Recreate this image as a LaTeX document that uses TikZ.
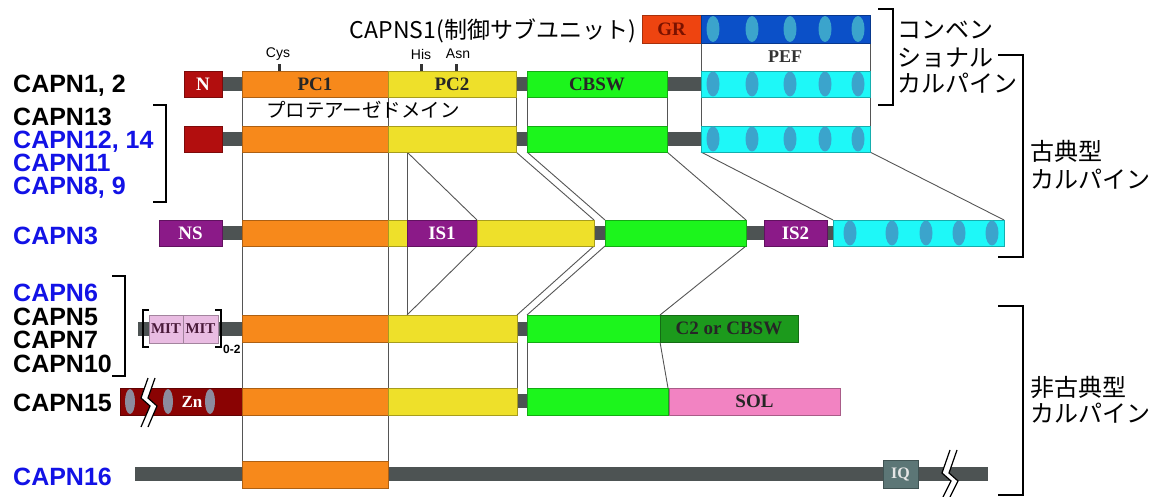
\documentclass[tikz,border=0pt]{standalone}
\usepackage{fontspec}
\setmainfont{Liberation Sans}
\newfontfamily\tnr{Liberation Serif}
\newfontfamily\jp{Noto Sans CJK JP}
\usetikzlibrary{backgrounds}
\definecolor{cOr}{HTML}{F7891B}
\definecolor{cYe}{HTML}{EEE02A}
\definecolor{cGr}{HTML}{1CF51C}
\definecolor{cCy}{HTML}{1EF8F8}
\definecolor{cBl}{HTML}{0B50C8}
\definecolor{cGR}{HTML}{EE4410}
\definecolor{cGRt}{HTML}{7A1200}
\definecolor{cRd}{HTML}{B20E0E}
\definecolor{cPu}{HTML}{8B1A88}
\definecolor{cMit}{HTML}{E9BCE2}
\definecolor{cMitT}{HTML}{4A1A3A}
\definecolor{cDg}{HTML}{1C9A1C}
\definecolor{cSol}{HTML}{F283C2}
\definecolor{cZn}{HTML}{8A0303}
\definecolor{cIQ}{HTML}{5C7676}
\definecolor{cLk}{HTML}{4D5353}
\definecolor{cEl}{HTML}{3BA4CC}
\definecolor{cZe}{HTML}{8C8C9E}
\definecolor{cLine}{HTML}{555555}
\definecolor{cBlue}{HTML}{1212E6}
\begin{document}
\begin{tikzpicture}[x=1pt,y=-1pt,
  dom/.style={draw=#1!70!black, fill=#1, line width=0.6pt, minimum height=26pt,
    inner sep=0pt, outer sep=0pt, anchor=north west,
    font=\tnr\bfseries\fontsize{19}{19}\selectfont, text=black!85},
  lnk/.style={fill=cLk, minimum height=14pt, inner sep=0pt, outer sep=0pt, anchor=west},
  conn/.style={draw=cLine, line width=0.9pt},
  lab/.style={anchor=base west, inner sep=0pt, font=\bfseries\fontsize{25}{25}\selectfont},
  jpl/.style={anchor=base west, inner sep=0pt, font=\jp\fontsize{24}{24}\selectfont},
  brk/.style={draw=black, line width=2.4pt},
  tick/.style={fill=black!80},
  small/.style={inner sep=0pt, font=\fontsize{14}{14}\selectfont}
]
\useasboundingbox (0,0) rectangle (1154,497);

% ---------- Row 0: CAPNS1 ----------
\node[dom=cGR, minimum width=59pt, minimum height=28pt, text=cGRt] (gr) at (642,15) {GR};
\node[dom=cBl, minimum width=169pt, minimum height=28pt] (pef0) at (701,15) {};
\foreach \x in {713,752,790,825,858} \fill[cEl] (\x,29) ellipse (6.5pt and 13pt);
\node[anchor=base east, inner sep=0pt, font=\jp\fontsize{23}{23}\selectfont] (ns1) at (636,39) {CAPNS1(制御サブユニット)};
\node[font=\tnr\bfseries\fontsize{18}{18}\selectfont, text=black!80, inner sep=0pt] (peflab) at (785,57) {PEF};

% ---------- Row 1: CAPN1, 2 ----------
\node[lnk, minimum width=24pt] (r1l1) at (220,84) {};
\node[lnk, minimum width=15pt] (r1l2) at (514,84) {};
\node[lnk, minimum width=38pt] (r1l3) at (665,84) {};
\node[dom=cRd, minimum width=38pt, text=white] (r1n) at (184,71) {N};
\node[dom=cOr, minimum width=146pt] (r1pc1) at (242,71) {PC1};
\node[dom=cYe, minimum width=128pt] (r1pc2) at (388,71) {PC2};
\node[dom=cGr, minimum width=140pt] (r1cb) at (527,71) {CBSW};
\node[dom=cCy, minimum width=169pt] (r1pef) at (701,71) {};
\foreach \x in {713,752,790,825,858} \fill[cEl] (\x,84) ellipse (6.5pt and 12.5pt);
\fill[tick] (277.5,64) rectangle (280.5,71);
\fill[tick] (419.5,64) rectangle (422.5,71);
\fill[tick] (454.5,64) rectangle (457.5,71);
\node[small] (cys) at (278,54) {Cys};
\node[small] (his) at (421,54) {His};
\node[small] (asn) at (458,54) {Asn};
\node[anchor=base, inner sep=0pt, font=\jp\fontsize{19.5}{19.5}\selectfont] (protease) at (363,118) {プロテアーゼドメイン};

% ---------- Row 2: CAPN13 group ----------
\node[lnk, minimum width=24pt] (r2l1) at (220,139) {};
\node[lnk, minimum width=15pt] (r2l2) at (514,139) {};
\node[lnk, minimum width=38pt] (r2l3) at (665,139) {};
\node[dom=cRd, minimum width=38pt] (r2n) at (184,126) {};
\node[dom=cOr, minimum width=146pt] (r2pc1) at (242,126) {};
\node[dom=cYe, minimum width=128pt] (r2pc2) at (388,126) {};
\node[dom=cGr, minimum width=140pt] (r2cb) at (527,126) {};
\node[dom=cCy, minimum width=169pt] (r2pef) at (701,126) {};
\foreach \x in {713,752,790,825,858} \fill[cEl] (\x,139) ellipse (6.5pt and 12.5pt);

% ---------- Row 3: CAPN3 ----------
\node[lnk, minimum width=24pt] (r3l1) at (220,233) {};
\node[lnk, minimum width=15pt] (r3l2) at (592,233) {};
\node[lnk, minimum width=22pt] (r3l3) at (744,233) {};
\node[lnk, minimum width=10pt] (r3l4) at (825,233) {};
\node[dom=cPu, minimum width=63pt, text=white] (r3ns) at (159,220) {NS};
\node[dom=cOr, minimum width=146pt] (r3pc1) at (242,220) {};
\node[dom=cYe, minimum width=19pt] (r3pc2a) at (388,220) {};
\node[dom=cPu, minimum width=70pt, text=white] (r3is1) at (407,220) {IS1};
\node[dom=cYe, minimum width=117pt] (r3pc2b) at (477,220) {};
\node[dom=cGr, minimum width=141pt] (r3cb) at (605,220) {};
\node[dom=cPu, minimum width=63pt, text=white] (r3is2) at (764,220) {IS2};
\node[dom=cCy, minimum width=171pt] (r3pef) at (833,220) {};
\foreach \x in {850,892,926,959,992} \fill[cEl] (\x,233) ellipse (6.5pt and 12.5pt);

% ---------- Row 4: CAPN6 group ----------
\node[lnk, minimum width=104pt] (r4l1) at (138,329) {};
\node[lnk, minimum width=14pt] (r4l2) at (515,329) {};
\node[dom=cMit, minimum width=34pt, minimum height=28pt, text=cMitT, font=\tnr\bfseries\fontsize{15}{15}\selectfont] (mit1) at (149,315) {MIT};
\node[dom=cMit, minimum width=35pt, minimum height=28pt, text=cMitT, font=\tnr\bfseries\fontsize{15}{15}\selectfont] (mit2) at (183,315) {MIT};
\draw[line width=2.4pt] (149,310) -- (143,310) -- (143,347) -- (149,347);
\draw[line width=2.4pt] (215,310) -- (221,310) -- (221,347) -- (215,347);
\node[anchor=west, inner sep=0pt, font=\bfseries\fontsize{12}{12}\selectfont] (sub02) at (223,349) {0-2};
\node[dom=cOr, minimum width=146pt, minimum height=27pt] (r4pc1) at (242,315) {};
\node[dom=cYe, minimum width=129pt, minimum height=27pt] (r4pc2) at (388,315) {};
\node[dom=cGr, minimum width=133pt, minimum height=27pt] (r4cb) at (527,315) {};
\node[dom=cDg, minimum width=138pt, minimum height=27pt] (r4c2) at (660,315) {C2 or CBSW};

% ---------- Row 5: CAPN15 ----------
\node[lnk, minimum width=14pt] (r5l1) at (515,401) {};
\node[dom=cZn, minimum width=122pt, minimum height=27pt, text=white, font=\tnr\bfseries\fontsize{17}{17}\selectfont] (r5zn) at (120,388) {\hspace*{22pt}Zn};
\foreach \x in {130,168,210} \fill[cZe] (\x,401.5) ellipse (5pt and 12.5pt);
\node[dom=cOr, minimum width=146pt, minimum height=27pt] (r5pc1) at (242,388) {};
\node[dom=cYe, minimum width=129pt, minimum height=27pt] (r5pc2) at (388,388) {};
\node[dom=cGr, minimum width=141pt, minimum height=27pt] (r5cb) at (527,388) {};
\node[dom=cSol, minimum width=171pt, minimum height=27pt] (r5sol) at (669,388) {SOL};
\fill[white] (148,378) -- (141,398) -- (150,406) -- (141,427) -- (148,427) -- (157,406) -- (148,398) -- (155,378) -- cycle;
\draw[line width=1.2pt] (148,378) -- (141,398) -- (150,406) -- (141,427);
\draw[line width=1.2pt] (155,378) -- (148,398) -- (157,406) -- (148,427);

% ---------- Row 6: CAPN16 ----------
\node[lnk, minimum width=853pt] (r6l1) at (135,474) {};
\node[dom=cOr, minimum width=146pt, minimum height=27pt] (r6pc1) at (242,461) {};
\node[dom=cIQ, minimum width=35pt, minimum height=28pt, text=white!90!black, font=\tnr\bfseries\fontsize{16}{16}\selectfont] (r6iq) at (883,460) {IQ};
\fill[white] (950,450) -- (942,473) -- (951,481) -- (943,497) -- (950,497) -- (958,481) -- (949,473) -- (957,450) -- cycle;
\draw[line width=1.2pt] (950,450) -- (942,473) -- (951,481) -- (943,497);
\draw[line width=1.2pt] (957,450) -- (949,473) -- (958,481) -- (950,497);

% ---------- Connectors ----------
\begin{scope}[on background layer]
\draw[conn] (pef0.south west) -- (r1pef.north west);
\draw[conn] (pef0.south east) -- (r1pef.north east);
\draw[conn] (r1pc1.south west) -- (r6pc1.north west);
\draw[conn] (r1pc1.south east) -- (r6pc1.north east);
\draw[conn] (r1pc2.south east) -- (r2pc2.north east);
\draw[conn] (r1cb.south west) -- (r2cb.north west);
\draw[conn] (r1cb.south east) -- (r2cb.north east);
\draw[conn] (r1pef.south west) -- (r2pef.north west);
\draw[conn] (r1pef.south east) -- (r2pef.north east);
\draw[conn] (r3is1.north west |- r2pc2.south) -- (r3is1.north west |- r4pc2.north);
\draw[conn] (r3is1.north west |- r2pc2.south) -- (r3is1.north east);
\draw[conn] (r3is1.south east) -- (r3is1.south west |- r4pc2.north);
\draw[conn] (r2pc2.south east) -- (r3pc2b.north east);
\draw[conn] (r3pc2b.south east) -- (r4pc2.north east);
\draw[conn] (r2cb.south west) -- (r3cb.north west);
\draw[conn] (r3cb.south west) -- (r4cb.north west);
\draw[conn] (r2cb.south east) -- (r3cb.north east);
\draw[conn] (r3cb.south east) -- (r4cb.north east);
\draw[conn] (r2pef.south west) -- (r3pef.north west);
\draw[conn] (r2pef.south east) -- (r3pef.north east);
\draw[conn] (r4pc2.south east) -- (r5pc2.north east);
\draw[conn] (r4cb.south west) -- (r5cb.north west);
\draw[conn] (r4cb.south east) -- (r5cb.north east);
\end{scope}

% ---------- Left labels ----------
\node[lab] (l12) at (13,93) {CAPN1, 2};
\node[lab] (l13) at (13,126) {CAPN13};
\node[lab, text=cBlue] (l1214) at (13,149) {CAPN12, 14};
\node[lab, text=cBlue] (l11) at (13,172) {CAPN11};
\node[lab, text=cBlue] (l89) at (13,195) {CAPN8, 9};
\node[lab, text=cBlue] (l3) at (13,244.5) {CAPN3};
\node[lab, text=cBlue] (l6) at (13,301.5) {CAPN6};
\node[lab] (l5) at (13,325) {CAPN5};
\node[lab] (l7) at (13,348) {CAPN7};
\node[lab] (l10) at (13,372) {CAPN10};
\node[lab] (l15) at (13,411.5) {CAPN15};
\node[lab, text=cBlue] (l16) at (13,485.5) {CAPN16};
\draw[brk] (153,105) -- (166,105) -- (166,202) -- (153,202);
\draw[brk] (112,276) -- (125,276) -- (125,376) -- (112,376);

% ---------- Right brackets and labels ----------
\draw[brk, line width=2pt] (878,9) -- (893,9) -- (893,105) -- (878,105);
\draw[brk, line width=2pt] (998,55) -- (1023,55) -- (1023,257) -- (998,257);
\draw[brk, line width=2pt] (998,306) -- (1023,306) -- (1023,495) -- (998,495);
\node[jpl] (c1) at (897,39) {コンベン};
\node[jpl] (c2) at (897,66.5) {ショナル};
\node[jpl] (c3) at (897,93) {カルパイン};
\node[jpl] (k1) at (1030,161) {古典型};
\node[jpl] (k2) at (1030,189) {カルパイン};
\node[jpl] (n1) at (1030,396) {非古典型};
\node[jpl] (n2) at (1030,422) {カルパイン};
\end{tikzpicture}
\end{document}
